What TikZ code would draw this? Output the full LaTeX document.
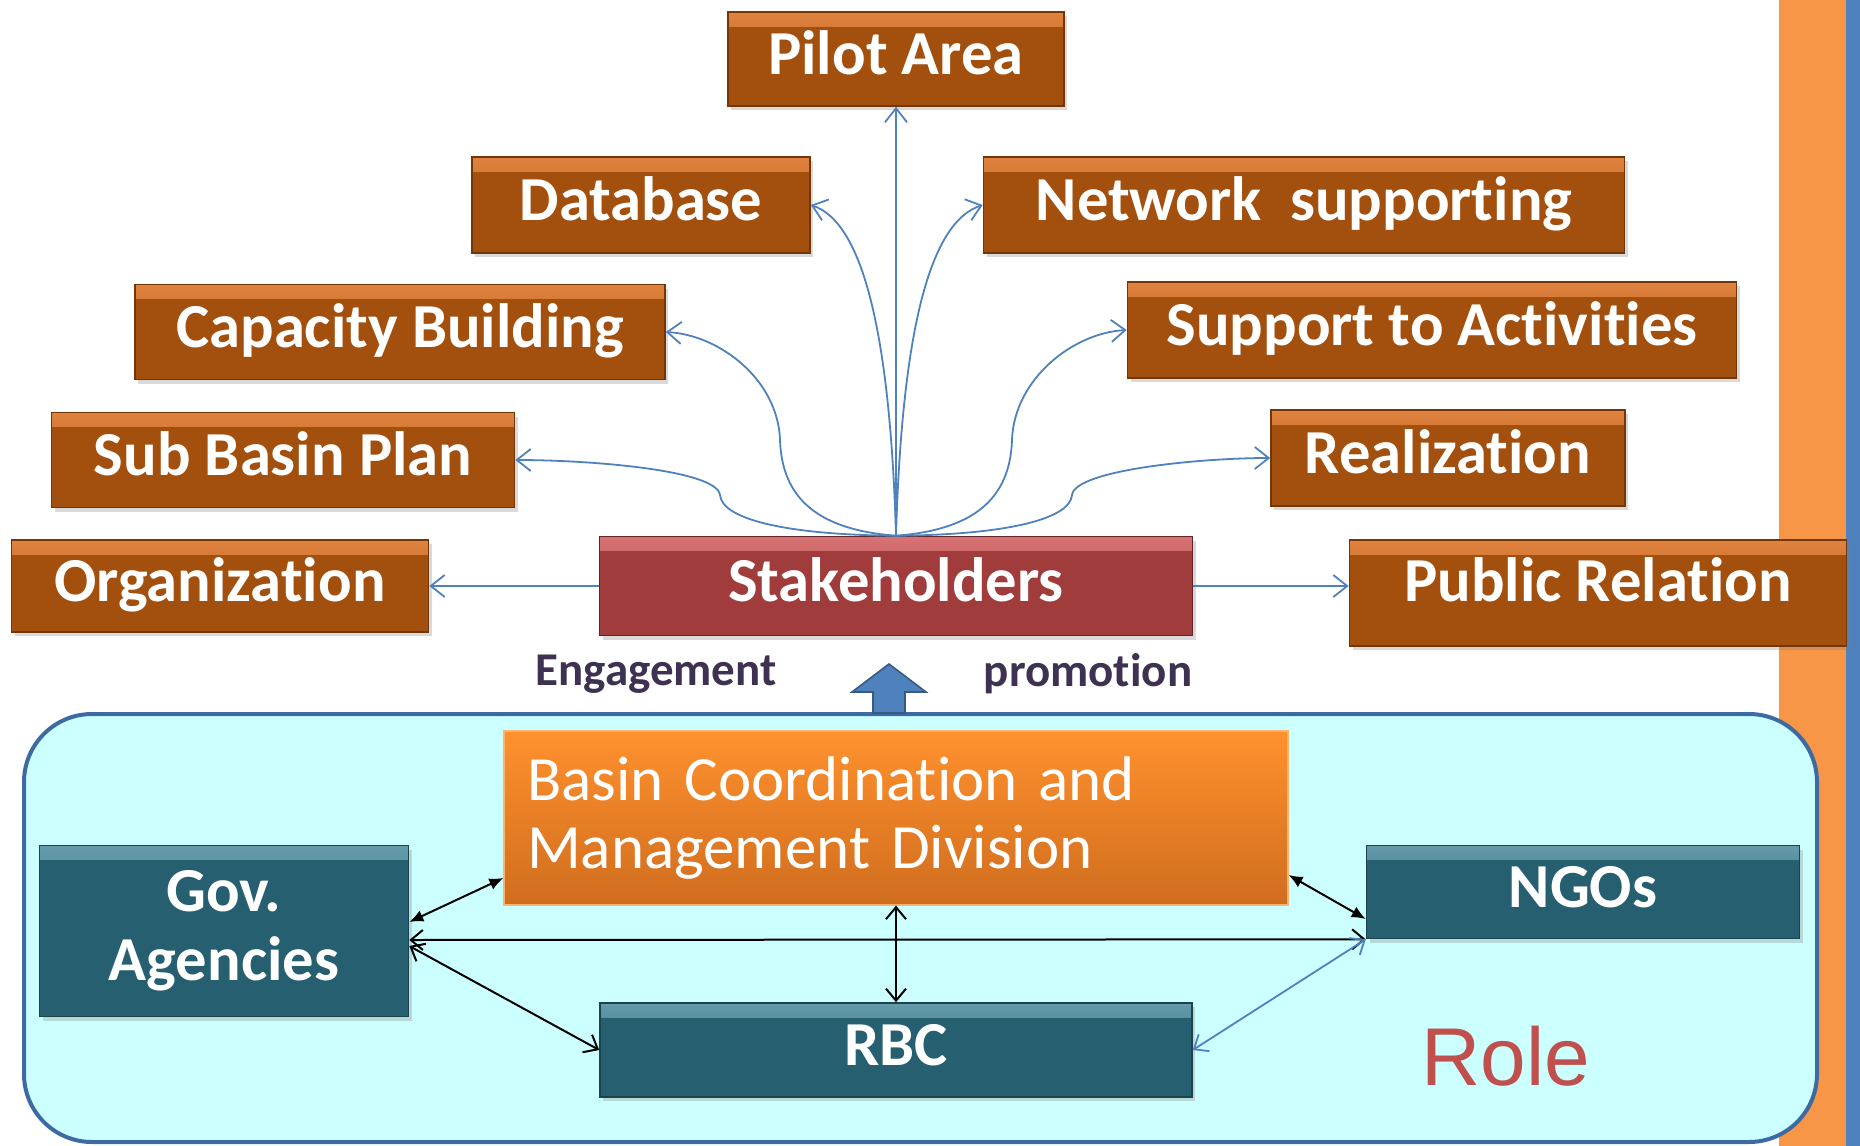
\documentclass[tikz,border=0pt]{standalone}
\usepackage{fontspec}
\setmainfont{Carlito}[RawFeature={-liga;-clig;-calt;-dlig}]
\newfontfamily\rolefont{Liberation Sans}
\usepackage{tikz}
\usetikzlibrary{positioning,arrows.meta,shadows}
\definecolor{boxbrown}{HTML}{A34F0D}
\definecolor{boxbrownlight}{HTML}{EC8C48}
\definecolor{stakered}{HTML}{A03C3C}
\definecolor{stakelight}{HTML}{E27C7C}
\definecolor{tealbox}{HTML}{266070}
\definecolor{teallight}{HTML}{6FA4B3}
\definecolor{panelfill}{HTML}{CCFFFF}
\definecolor{panelline}{HTML}{3E6AA3}
\definecolor{flowblue}{HTML}{4F81BD}
\definecolor{barorange}{HTML}{F79646}
\definecolor{notetext}{HTML}{3F3151}
\definecolor{rolered}{HTML}{C0504D}
\definecolor{basintop}{HTML}{FF912E}
\definecolor{basinbottom}{HTML}{D06D1E}

\tikzset{
  bevel/.style 2 args={path picture={\shade[top color=#1,bottom color=#2]
      (path picture bounding box.north west) rectangle ([yshift=-7pt]path picture bounding box.north east);}},
  box/.style={rectangle, inner sep=0pt, text=white, align=center,
    font=\bfseries\fontsize{31.3}{34.5}\selectfont, text height=21.9pt, text depth=6.3pt,
    drop shadow={shadow xshift=1.5pt,shadow yshift=-2pt,opacity=0.3}},
  brownbox/.style={box, fill=boxbrown, draw=boxbrown!70!black, line width=0.8pt, bevel={boxbrownlight!85!boxbrown}{boxbrown}},
  stakebox/.style={box, fill=stakered, draw=stakered!60!black, line width=0.8pt, bevel={stakelight!85!stakered}{stakered}},
  tealbox/.style={box, fill=tealbox, draw=tealbox!70!black, line width=0.8pt, bevel={teallight!85!tealbox}{tealbox}},
  basinbox/.style={rectangle, top color=basintop, bottom color=basinbottom, draw=basintop!70!white,
    line width=0.6pt, text=white, align=left, text width=369pt, inner xsep=11.5pt,
    font=\fontsize{31.5}{34}\selectfont},
  note/.style={text=notetext, font=\bfseries\fontsize{23.5}{26}\selectfont},
  flow/.style={draw=flowblue, line width=0.9pt, -{Straight Barb[length=7pt,width=11pt]}},
  link/.style={draw=black, line width=1pt, {Straight Barb[length=6pt,width=10pt]}-{Straight Barb[length=6pt,width=10pt]}},
  solidlink/.style={draw=black, line width=1pt, {Latex[length=7pt,width=6pt]}-{Latex[length=7pt,width=6pt]}},
  bluelink/.style={draw=flowblue, line width=0.9pt, {Straight Barb[length=6pt,width=10pt]}-{Straight Barb[length=6pt,width=10pt]}}
}

\begin{document}
\begin{tikzpicture}[x=0.5pt,y=-0.5pt]
\useasboundingbox (0,0) rectangle (1860,1146);
\fill[barorange] (1779,0) rectangle (1846,1146);
\fill[flowblue] (1846,0) rectangle (1860,1146);
\draw[panelline, fill=panelfill, line width=2pt, rounded corners=34pt] (24,714) rectangle (1817,1142);

\node[brownbox, minimum width=168pt, minimum height=47pt] (pilot) at (896,59) {Pilot Area};
\node[brownbox, minimum width=169pt, minimum height=48pt] (database) at (641,205) {Database};
\node[brownbox, minimum width=320.5pt, minimum height=48pt] (network) at (1304,205) {Network~ supporting};
\node[brownbox, minimum width=265pt, minimum height=47.5pt] (capacity) at (400,332) {Capacity Building};
\node[brownbox, minimum width=304.5pt, minimum height=48pt] (support) at (1432,330) {Support to Activities};
\node[brownbox, minimum width=231.5pt, minimum height=47.5pt] (subbasin) at (283,460) {Sub Basin Plan};
\node[brownbox, minimum width=177pt, minimum height=48pt] (realization) at (1448,458) {Realization};
\node[brownbox, minimum width=208.5pt, minimum height=46pt] (organization) at (220,586) {Organization};
\node[stakebox, minimum width=296.5pt, minimum height=49.5pt] (stakeholders) at (896,586) {Stakeholders};
\node[brownbox, minimum width=248.5pt, minimum height=53pt, text depth=13.3pt] (publicrel) at (1598,593) {Public Relation};

\node[note] (engage) at (656,674) {Engagement};
\node[note] (promote) at (1088,674) {promotion};
\draw[fill=flowblue, draw=flowblue!70!black, line width=0.8pt]
  (889,664) -- (926,692) -- (905,692) -- (905,713) -- (873,713) -- (873,692) -- (852,692) -- cycle;

\node[basinbox, minimum height=87pt] (basin) at (896,818) {Basin Coordination and\\Management Division};
\node[tealbox, minimum width=184.5pt, minimum height=85.5pt, text height=, text depth=] (gov) at (224,931) {Gov.\\Agencies};
\node[tealbox, minimum width=216.5pt, minimum height=46.5pt] (ngos) at (1583,892) {NGOs};
\node[tealbox, minimum width=296pt, minimum height=47pt] (rbc) at (896,1050) {RBC};
\node[text=rolered, font=\rolefont\fontsize{41}{45}\selectfont] (role) at (1506,1056) {Role};

\draw[flow] (stakeholders.north) -- (pilot.south);
\draw[flow] (stakeholders.north) .. controls (890,330) and (862,222) .. (database.east);
\draw[flow] (stakeholders.north) .. controls (902,330) and (930,222) .. (network.west);
\draw[flow] (stakeholders.north) .. controls (820,530) and (782,500) .. (780,440)
  .. controls (778,380) and (720,335) .. (capacity.east);
\draw[flow] (stakeholders.north) .. controls (972,530) and (1010,500) .. (1012,440)
  .. controls (1014,380) and (1072,333) .. (support.west);
\draw[flow] (stakeholders.north) .. controls (790,535) and (722,520) .. (720,495)
  .. controls (717,470) and (590,460) .. (subbasin.east);
\draw[flow] (stakeholders.north) .. controls (1002,535) and (1070,520) .. (1072,495)
  .. controls (1075,470) and (1200,458) .. (realization.west);
\draw[flow] (stakeholders.west) -- (organization.east);
\draw[flow] (stakeholders.east) -- (stakeholders.east -| publicrel.west);

\draw[solidlink] ([yshift=4.5pt]gov.east) -- ([yshift=-30pt]basin.west);
\draw[link] ([yshift=-4.5pt]gov.east) -- (ngos.south west);
\draw[link] ([yshift=-7.5pt]gov.east) -- (rbc.west);
\draw[link] (basin.south) -- (rbc.north);
\draw[solidlink] ([yshift=-28.5pt]basin.east) -- ([yshift=-13.5pt]ngos.west);
\draw[bluelink] (rbc.east) -- (ngos.south west);
\end{tikzpicture}
\end{document}
